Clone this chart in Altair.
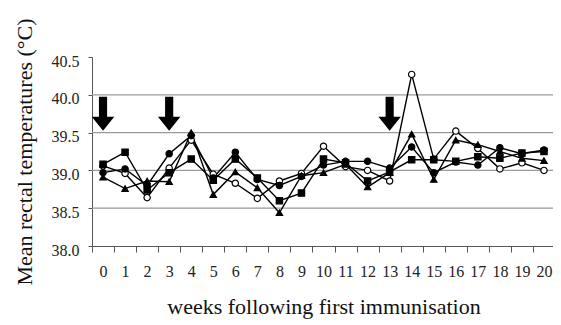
import altair as alt
import pandas as pd

weeks = list(range(21))
open_circle = [39.06, 38.96, 38.64, 39.03, 39.40, 38.95, 38.83, 38.63, 38.86, 38.96, 39.32,
               39.05, 39.00, 38.86, 40.27, 39.15, 39.52, 39.29, 39.02, 39.10, 39.00]
filled_circle = [38.97, 39.02, 38.80, 39.22, 39.46, 38.90, 39.24, 38.88, 38.80, 38.92, 39.07,
                 39.12, 39.12, 39.03, 39.31, 38.97, 39.11, 39.07, 39.30, 39.22, 39.27]
filled_square = [39.08, 39.24, 38.74, 38.97, 39.15, 38.87, 39.15, 38.90, 38.60, 38.70, 39.15,
                 39.10, 38.86, 38.98, 39.14, 39.14, 39.12, 39.18, 39.16, 39.23, 39.25]
triangle = [38.91, 38.76, 38.86, 38.85, 39.50, 38.68, 38.98, 38.77, 38.44, 38.93, 38.97,
            39.08, 38.78, 38.97, 39.48, 38.88, 39.40, 39.34, 39.25, 39.16, 39.13]

series_names = ["open circle", "filled circle", "filled square", "triangle"]
series_values = [open_circle, filled_circle, filled_square, triangle]
series_shapes = ["circle", "circle", "square", "triangle-up"]
series_fills = ["white", "black", "black", "black"]
series_sizes = [40, 40, 36, 48]

arrow_weeks = [0, 3, 13]
arrow_value = 39.75
grid_values = [38.5, 39.0, 39.5, 40.0]
y_ticks = [38.0, 38.5, 39.0, 39.5, 40.0, 40.5]

rows = []
for name, vals in zip(series_names, series_values):
    for w, v in zip(weeks, vals):
        rows.append({"week": str(w), "temp": v, "series": name})
df = pd.DataFrame(rows)

week_order = [str(w) for w in weeks]
FONT = "Liberation Serif"

x_scale = alt.Scale(type="band", domain=week_order, paddingInner=0, paddingOuter=0)
x_axis = alt.Axis(title="weeks following first immunisation", labelAngle=0, tickBand="extent",
                  tickSize=6, labelPadding=11, titlePadding=17, labelFontSize=16,
                  titleFontSize=22, labelFont=FONT, titleFont=FONT, titleFontWeight="normal",
                  domainColor="#555", tickColor="#555", labelColor="#222", titleColor="#111",
                  labelOverlap=False, labelBound=False, grid=False)
y_scale = alt.Scale(domain=[38.0, 40.5], nice=False, zero=False)
y_axis = alt.Axis(title="Mean rectal temperatures (°C)", values=y_ticks, format=".1f",
                  tickSize=4, labelPadding=9, titlePadding=15, labelFontSize=16,
                  labelOffset=4, labelOverlap=False,
                  titleFontSize=22, labelFont=FONT, titleFont=FONT, titleFontWeight="normal",
                  domainColor="#555", tickColor="#555", labelColor="#222", titleColor="#111",
                  grid=False)

X = alt.X("week:O", scale=x_scale, axis=x_axis)

grid = alt.Chart(pd.DataFrame({"g": grid_values})).mark_rule(color="#9a9a9a", strokeWidth=1.2).encode(
    y=alt.Y("g:Q", scale=y_scale, axis=y_axis))

lines = alt.Chart(df).mark_line(color="black", strokeWidth=1.4).encode(
    x=X,
    y=alt.Y("temp:Q", scale=y_scale, axis=y_axis),
    detail="series:N")

points = alt.Chart(df).mark_point(filled=True, stroke="black", strokeWidth=1.2, opacity=1).encode(
    x=X,
    y=alt.Y("temp:Q", scale=y_scale, axis=y_axis),
    shape=alt.Shape("series:N", scale=alt.Scale(domain=series_names, range=series_shapes), legend=None),
    fill=alt.Fill("series:N", scale=alt.Scale(domain=series_names, range=series_fills), legend=None),
    size=alt.Size("series:N", scale=alt.Scale(domain=series_names, range=series_sizes), legend=None))

arrow_path = "M-0.24,-1 L0.24,-1 L0.24,0.18 L0.66,0.18 L0,1 L-0.66,0.18 L-0.24,0.18 Z"
arrows = alt.Chart(pd.DataFrame({"week": [str(w) for w in arrow_weeks], "v": [arrow_value] * len(arrow_weeks)})).mark_point(
    shape=arrow_path, size=1156, filled=True, color="black", opacity=1).encode(
    x=X, y=alt.Y("v:Q", scale=y_scale, axis=y_axis))

chart = alt.layer(grid, lines, points, arrows).properties(
    width=463, height=189,
    autosize=alt.AutoSizeParams(type="none"),
    padding={"left": 84, "top": 49, "right": -2, "bottom": 75},
    background="white",
).configure_view(stroke=None).configure_axis(labelFont=FONT, titleFont=FONT)

chart.save("out.html", embed_options={"renderer": "svg", "actions": False})
